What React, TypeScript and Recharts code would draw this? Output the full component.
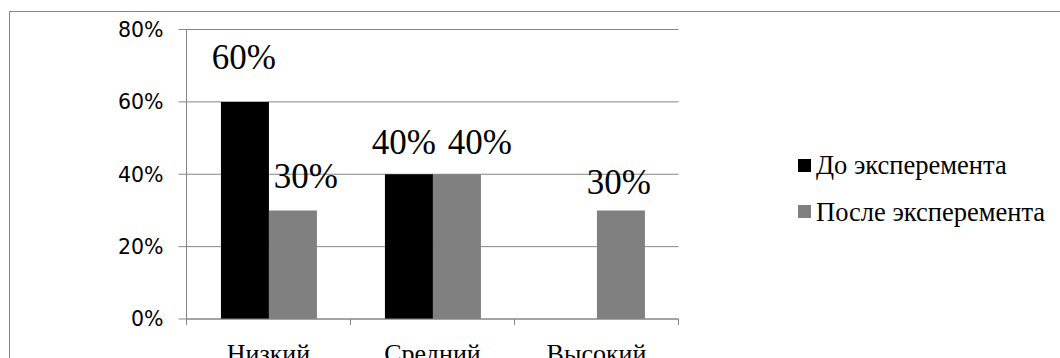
import React from 'react';
import { BarChart, Bar, XAxis, YAxis, CartesianGrid, LabelList } from 'recharts';

// data
const categories = ['Низкий', 'Средний', 'Высокий'];
const beforeValues = [0.6, 0.4, 0];
const afterValues = [0.3, 0.4, 0.3];
const yTicks = [0, 0.2, 0.4, 0.6, 0.8];
const seriesNames = ['До эксперемента', 'После эксперемента'];

const data = categories.map((name, i) => ({
    name,
    before: beforeValues[i],
    after: afterValues[i],
}));

// layout
const CHART_W = 1060;
const CHART_H = 380;
const PLOT_LEFT = 186.5;
const PLOT_TOP = 29.5;
const PLOT_RIGHT = 678.5;
const PLOT_BOTTOM = 319;
const X_AXIS_H = 40;
const BAND = (PLOT_RIGHT - PLOT_LEFT) / categories.length;

const AXIS = '#868686';
const BLACK = '#000000';
const GRAY = '#808080';
const SERIF = "'Liberation Serif'";
const SANS = "'DejaVu Sans'";
const LABEL_GAP = 20;

// hand placed data labels in the original, small nudges [dx, dy]
const beforeNudge = [[-1, -13], [-5, 0], [0, 0]];
const afterNudge = [[13, -2], [23, 0], [-2, 4]];

const pct = (v: number) => `${Math.round(v * 100)}%`;

const CategoryTick = (props: any) => {
    const { x, payload, index } = props;
    const left = x - BAND / 2;
    return (
        <g>
            <line x1={left} x2={left} y1={PLOT_BOTTOM} y2={PLOT_BOTTOM + 6} stroke={AXIS} />
            {index === categories.length - 1 && (
                <line x1={x + BAND / 2} x2={x + BAND / 2} y1={PLOT_BOTTOM} y2={PLOT_BOTTOM + 6} stroke={AXIS} />
            )}
            <text x={x} y={PLOT_BOTTOM + 25} dy="0.71em" textAnchor="middle" style={{ fontFamily: SERIF, fontSize: 26 }} fill="#000">
                {payload.value}
            </text>
        </g>
    );
};

const makeLabel = (nudge: number[][]) => (props: any) => {
    const { x, y, width, value, index } = props;
    if (!value) return null;
    const [dx, dy] = nudge[index] || [0, 0];
    return (
        <text x={x + width / 2 + dx} y={y - LABEL_GAP + dy} textAnchor="middle" style={{ fontFamily: SERIF, fontSize: 35 }} fill="#000">
            {pct(value)}
        </text>
    );
};

const App = () => {
    const colors = [BLACK, GRAY];
    return (
        <div style={{ position: 'relative', width: CHART_W, height: 358, overflow: 'hidden', background: '#fff' }}>
            <style>{'body{margin:0;overflow:hidden}'}</style>
            <div
                style={{
                    position: 'absolute',
                    left: 9,
                    top: 11,
                    width: 1200,
                    height: 500,
                    borderTop: `1px solid ${AXIS}`,
                    borderLeft: `1px solid ${AXIS}`,
                }}
            />
            <div style={{ position: 'absolute', left: 0, top: 0 }}>
                <BarChart
                    width={CHART_W}
                    height={CHART_H}
                    data={data}
                    margin={{
                        top: PLOT_TOP,
                        right: CHART_W - PLOT_RIGHT,
                        bottom: CHART_H - PLOT_BOTTOM - X_AXIS_H,
                        left: 0,
                    }}
                    barCategoryGap="21%"
                    barGap={0}
                >
                    <CartesianGrid vertical={false} stroke={AXIS} />
                    <XAxis
                        dataKey="name"
                        height={X_AXIS_H}
                        stroke={AXIS}
                        tickLine={false}
                        tick={<CategoryTick />}
                        interval={0}
                    />
                    <YAxis
                        width={PLOT_LEFT}
                        domain={[0, 0.8]}
                        ticks={yTicks}
                        tickFormatter={pct}
                        stroke={AXIS}
                        tickSize={8}
                        tickMargin={15}
                        tick={{ fill: '#000', fontFamily: SANS, fontSize: 20.5 }}
                    />
                    <Bar dataKey="before" fill={BLACK} isAnimationActive={false}>
                        <LabelList dataKey="before" content={makeLabel(beforeNudge)} />
                    </Bar>
                    <Bar dataKey="after" fill={GRAY} isAnimationActive={false}>
                        <LabelList dataKey="after" content={makeLabel(afterNudge)} />
                    </Bar>
                </BarChart>
            </div>
            {seriesNames.map((name, i) => (
                <div
                    key={name}
                    style={{
                        position: 'absolute',
                        left: 798,
                        top: 152 + i * 46.5,
                        height: 26,
                        display: 'flex',
                        alignItems: 'center',
                        fontFamily: SERIF,
                        fontSize: 26.5,
                        lineHeight: '26px',
                        whiteSpace: 'nowrap',
                    }}
                >
                    <span style={{ width: 13, height: 13, background: colors[i], marginRight: 5, display: 'inline-block' }} />
                    <span>{name}</span>
                </div>
            ))}
        </div>
    );
};

export default App;
